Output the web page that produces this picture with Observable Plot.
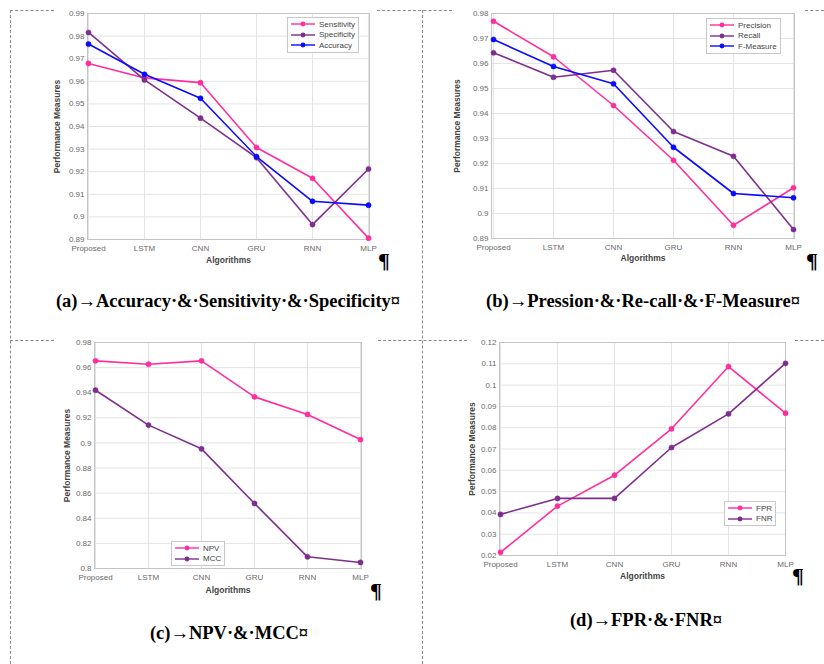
<!DOCTYPE html>
<html>
<head>
<meta charset="utf-8">
<script src="https://cdn.jsdelivr.net/npm/d3@7"></script>
<script src="https://cdn.jsdelivr.net/npm/@observablehq/plot@0.6"></script>
<style>
  body { margin: 0; background: #fff; }
  #page { position: relative; width: 824px; height: 664px; background: #fff; overflow: hidden; }
  .panel { position: absolute; }
  .dash-h { position: absolute; height: 0; border-top: 1px dashed #8a8a8a; }
  .dash-v { position: absolute; width: 0; border-left: 1px dashed #8a8a8a; }
  .caption { position: absolute; font-family: "Liberation Serif", "Times New Roman", serif; font-weight: bold; font-size: 18.5px; color: #000; white-space: nowrap; transform: translate(-50%, -50%); }
  .pil { position: absolute; font-family: "Liberation Serif", serif; font-weight: bold; font-size: 22px; color: #000; line-height: 1; }
  .legend { position: absolute; background: #fff; border: 1px solid #c8c8c8; font-family: "Liberation Sans", Arial, sans-serif; font-size: 8px; color: #444; padding: 1px 3px 1px 2px; }
  .legend .row { display: flex; align-items: center; height: 10.5px; }
  .legend svg { margin-right: 3px; }
</style>
</head>
<body>
<div id="page"></div>
<script>
// ---------- data ----------
const categories = ["Proposed", "LSTM", "CNN", "GRU", "RNN", "MLP"];

const sensitivity = [0.9679, 0.9615, 0.9594, 0.9307, 0.9171, 0.8906];
const specificity = [0.9816, 0.9606, 0.9437, 0.9262, 0.8966, 0.9212];
const accuracy    = [0.9765, 0.9631, 0.9525, 0.9267, 0.9069, 0.9052];

const precision = [0.9769, 0.9627, 0.9432, 0.9213, 0.8953, 0.9103];
const recall    = [0.9643, 0.9545, 0.9573, 0.9328, 0.9229, 0.8936];
const fMeasure  = [0.9696, 0.9588, 0.9519, 0.9265, 0.9080, 0.9063];

const npv = [0.9654, 0.9627, 0.9654, 0.9367, 0.9227, 0.9027];
const mcc = [0.9420, 0.9142, 0.8953, 0.8518, 0.8093, 0.8048];

const fpr = [0.0215, 0.0432, 0.0577, 0.0795, 0.1087, 0.0868];
const fnr = [0.0393, 0.0468, 0.0468, 0.0707, 0.0865, 0.1102];

const ticksA = [0.89, 0.90, 0.91, 0.92, 0.93, 0.94, 0.95, 0.96, 0.97, 0.98, 0.99];
const ticksB = [0.89, 0.90, 0.91, 0.92, 0.93, 0.94, 0.95, 0.96, 0.97, 0.98];
const ticksC = [0.80, 0.82, 0.84, 0.86, 0.88, 0.90, 0.92, 0.94, 0.96, 0.98];
const ticksD = [0.02, 0.03, 0.04, 0.05, 0.06, 0.07, 0.08, 0.09, 0.10, 0.11, 0.12];

const captionA = "(a)→Accuracy·&·Sensitivity·&·Specificity¤";
const captionB = "(b)→Pression·&·Re-call·&·F-Measure¤";
const captionC = "(c)→NPV·&·MCC¤";
const captionD = "(d)→FPR·&·FNR¤";

const PINK = "#ff2e9e", PURPLE = "#7e2f8e", BLUE = "#0a0aff";

// ---------- helpers ----------
const page = document.getElementById("page");
const fmt = d => String(+d.toFixed(2));

function panel(cfg) {
  const marks = [
    Plot.gridY(cfg.ticks, {stroke: "#e4e4e4", strokeOpacity: 1}),
    Plot.gridX(categories, {stroke: "#e4e4e4", strokeOpacity: 1}),
    Plot.frame({stroke: "#c4c4c4"}),
    Plot.axisY(cfg.ticks, {tickSize: 0, tickPadding: 3, tickFormat: fmt, fill: "#6a6a6a", fontSize: 8, label: null}),
    Plot.axisX(categories, {tickSize: 0, tickPadding: cfg.xPad, fill: "#6a6a6a", fontSize: 8, label: null}),
    Plot.text(["Performance Measures"], {frameAnchor: "left", dx: cfg.yLabDx, rotate: -90, fontWeight: "bold", fontSize: 8.5, fill: "#444", textAnchor: "middle"}),
    Plot.text(["Algorithms"], {frameAnchor: "bottom", dy: cfg.xLabDy, fontWeight: "bold", fontSize: 8.5, fill: "#444", textAnchor: "middle"})
  ];
  for (const s of cfg.series) {
    const rows = categories.map((c, i) => ({alg: c, v: s.values[i]}));
    marks.push(Plot.line(rows, {x: "alg", y: "v", stroke: s.color, strokeWidth: 1.6}));
    marks.push(Plot.dot(rows, {x: "alg", y: "v", fill: s.color, r: 2.6, stroke: s.color, strokeWidth: 0.5}));
  }
  const svg = Plot.plot({
    width: cfg.width, height: cfg.height,
    marginLeft: cfg.ml, marginRight: cfg.mr, marginTop: cfg.mt, marginBottom: cfg.mb,
    x: {type: "point", domain: categories, padding: 0, axis: null},
    y: {domain: cfg.domain, axis: null},
    style: {fontFamily: "'Liberation Sans', Arial, sans-serif", fontSize: "8px", background: "transparent", overflow: "visible"},
    marks
  });
  const wrap = document.createElement("div");
  wrap.className = "panel";
  wrap.style.left = cfg.left + "px";
  wrap.style.top = cfg.top + "px";
  wrap.appendChild(svg);
  page.appendChild(wrap);

  // legend
  const lg = document.createElement("div");
  lg.className = "legend";
  lg.style.left = cfg.legend.x + "px";
  lg.style.top = cfg.legend.y + "px";
  for (const s of cfg.series) {
    const row = document.createElement("div");
    row.className = "row";
    row.innerHTML = `<svg width="26" height="8"><line x1="1" y1="4" x2="25" y2="4" stroke="${s.color}" stroke-width="1.4"/><circle cx="13" cy="4" r="2.4" fill="${s.color}"/></svg><span>${s.name}</span>`;
    lg.appendChild(row);
  }
  page.appendChild(lg);
}

function dashH(x1, x2, y) { const d = document.createElement("div"); d.className = "dash-h"; d.style.left = x1 + "px"; d.style.width = (x2 - x1) + "px"; d.style.top = y + "px"; page.appendChild(d); }
function dashV(x, y1, y2) { const d = document.createElement("div"); d.className = "dash-v"; d.style.left = x + "px"; d.style.top = y1 + "px"; d.style.height = (y2 - y1) + "px"; page.appendChild(d); }
function caption(t, x, y) { const d = document.createElement("div"); d.className = "caption"; d.textContent = t; d.style.left = x + "px"; d.style.top = y + "px"; page.appendChild(d); }
function pil(x, y) { const d = document.createElement("div"); d.className = "pil"; d.textContent = "¶"; d.style.left = x + "px"; d.style.top = y + "px"; page.appendChild(d); }

// ---------- table borders ----------
dashV(10, 10, 664);
dashV(422, 10, 664);
dashH(10, 54, 10);
dashH(377, 452, 10);
dashH(805, 824, 10);
dashH(10, 54, 340);
dashH(378, 467, 340);
dashH(795, 824, 340);

// ---------- panels ----------
panel({left: 40, top: 0, width: 350, height: 275, ml: 47, mr: 21, mt: 13, mb: 36,
  domain: [0.89, 0.99], ticks: ticksA, xPad: 6, yLabDx: -30, xLabDy: 23,
  legend: {x: 287, y: 17},
  series: [{name: "Sensitivity", values: sensitivity, color: PINK},
           {name: "Specificity", values: specificity, color: PURPLE},
           {name: "Accuracy", values: accuracy, color: BLUE}]});

panel({left: 445, top: 0, width: 375, height: 275, ml: 46, mr: 26, mt: 13, mb: 37,
  domain: [0.89, 0.98], ticks: ticksB, xPad: 6, yLabDx: -34, xLabDy: 22,
  legend: {x: 706, y: 18},
  series: [{name: "Precision", values: precision, color: PINK},
           {name: "Recall", values: recall, color: PURPLE},
           {name: "F-Measure", values: fMeasure, color: BLUE}]});

panel({left: 45, top: 330, width: 345, height: 280, ml: 49, mr: 29, mt: 12, mb: 42,
  domain: [0.80, 0.98], ticks: ticksC, xPad: 6, yLabDx: -27, xLabDy: 24,
  legend: {x: 171, y: 541},
  series: [{name: "NPV", values: npv, color: PINK},
           {name: "MCC", values: mcc, color: PURPLE}]});

panel({left: 455, top: 330, width: 360, height: 260, ml: 44, mr: 30, mt: 12, mb: 35,
  domain: [0.02, 0.12], ticks: ticksD, xPad: 6, yLabDx: -27, xLabDy: 23,
  legend: {x: 724, y: 501},
  series: [{name: "FPR", values: fpr, color: PINK},
           {name: "FNR", values: fnr, color: PURPLE}]});

// ---------- captions & marks ----------
caption(captionA, 228, 301);
caption(captionB, 643, 301);
caption(captionC, 229, 633);
caption(captionD, 646, 620);
pil(378, 250);
pil(806, 250);
pil(370, 580);
pil(792, 565);
</script>
</body>
</html>
